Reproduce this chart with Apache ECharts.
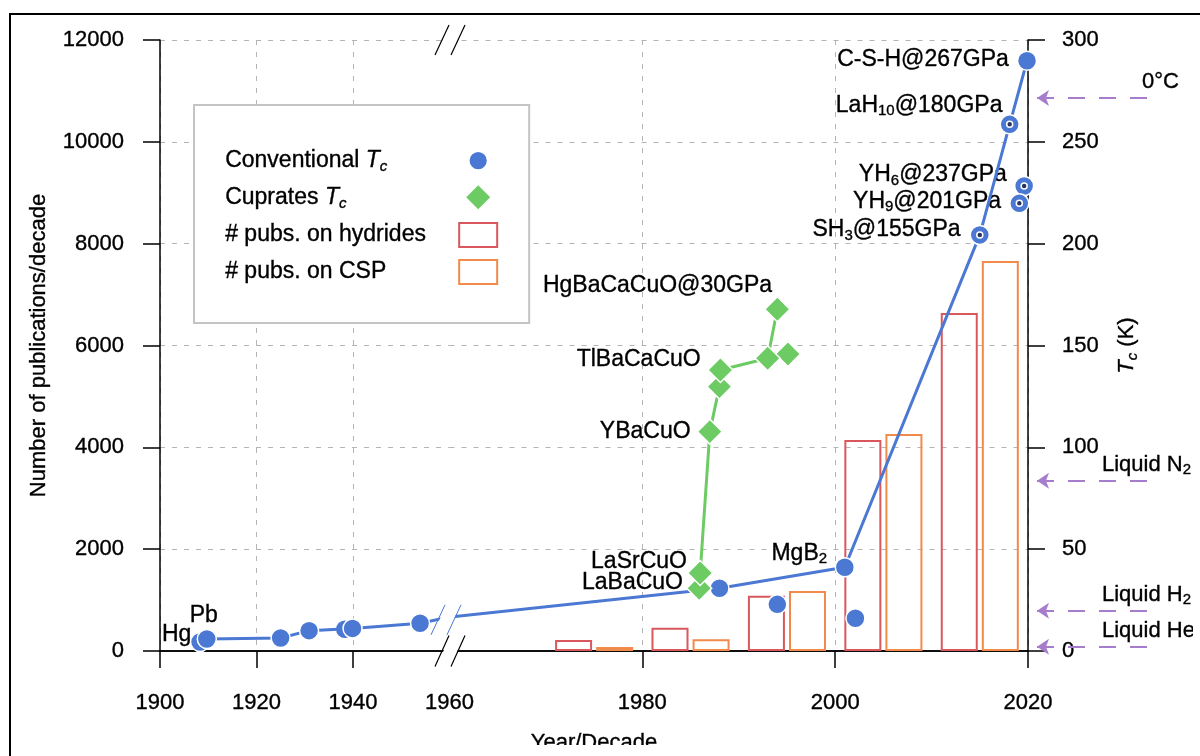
<!DOCTYPE html>
<html>
<head>
<meta charset="utf-8">
<script src="https://cdn.jsdelivr.net/npm/echarts@6/dist/echarts.min.js"></script>
<style>html,body{margin:0;padding:0;background:#fff}#c{width:1200px;height:756px}</style>
</head>
<body>
<div id="c"></div>
<script>
// ================= DATA =================
// x-axis tick labels (left segment 1900-1960, right segment 1960-2020)
const xTicksLeft = [1900, 1920, 1940, 1960];
const xTicksRight = [1980, 2000, 2020];

// Conventional superconductors joined by the trend line (year, Tc in K)
const convNames = ['Pb', '', '', '', '', '', 'MgB_2', 'SH_3@155GPa', 'LaH_10@180GPa', 'C-S-H@267GPa'];
const convYears = [1909.7, 1925.0, 1930.9, 1939.9, 1953.9, 1988.0, 2001.0, 2015.0, 2018.1, 2019.9];
const convTc    = [5.9, 6.4, 10.0, 11.1, 13.6, 30.8, 41.1, 204.3, 258.6, 289.8];

// Conventional superconductors off the trend line
const convOffNames = ['Hg', '', '', '', 'YH_6@237GPa', 'YH_9@201GPa'];
const convOffYears = [1908.3, 1938.3, 1994.0, 2002.1, 2019.6, 2019.1];
const convOffTc    = [4.4, 10.7, 22.9, 16.1, 228.3, 219.8];

// hydrides measured under pressure (drawn with a centre dot)
const highPressure = ['SH_3@155GPa', 'LaH_10@180GPa', 'YH_6@237GPa', 'YH_9@201GPa'];

// Cuprates joined by the line
const cupNames = ['LaBaCuO', 'LaSrCuO', 'YBaCuO', '', 'TlBaCaCuO', '', 'HgBaCaCuO@30GPa'];
const cupYears = [1985.9, 1986.0, 1987.0, 1988.0, 1988.1, 1993.0, 1994.0];
const cupTc    = [30.8, 38.3, 107.7, 129.8, 138.0, 143.7, 167.8];
// Cuprates off the line
const cupOffYears = [1995.1];
const cupOffTc    = [145.8];

// Publications per decade (bars placed at decade mid-year)
const pubDecades   = [1975, 1985, 1995, 2005, 2015];
const pubsHydrides = [216, 458, 1086, 4144, 6638];
const pubsCSP      = [79, 230, 1178, 4262, 7659];

// Reference temperatures (K)
const refNames = ['0°C', 'Liquid N_2', 'Liquid H_2', 'Liquid He'];
const refTemps = [271.5, 83.6, 19.8, 2.1];

// ================= STYLE =================
const F = "'Liberation Sans', Arial, Helvetica, sans-serif";
const BLUE = '#4a78d3', GREEN = '#6ccb63', RED = '#d9585e', ORANGE = '#f08b4c',
      PURPLE = '#a67dcc', GRIDC = '#b4b4b4';
const TB = {textBorderColor: '#000', textBorderWidth: 0.35};
const refLabelX = [1142, 1102, 1102, 1102];

function rich(size) {
  const sub = Math.round(size * 0.66);
  const base = Object.assign({fontFamily: F, color: '#000'}, TB);
  return {
    n:  Object.assign({fontSize: size, lineHeight: size + 4}, base),
    i:  Object.assign({fontSize: size, fontStyle: 'italic', lineHeight: size + 4}, base),
    s:  Object.assign({fontSize: sub, lineHeight: 10, verticalAlign: 'bottom'}, base),
    si: Object.assign({fontSize: sub, fontStyle: 'italic', lineHeight: 10, verticalAlign: 'bottom'}, base)
  };
}
// plain zrender rich styles (for graphic texts)
function zrich(size) {
  const sub = Math.round(size * 0.66);
  const base = {fontFamily: F, fill: '#000', stroke: '#000', lineWidth: 0.35};
  return {
    n: Object.assign({fontSize: size, lineHeight: size + 4}, base),
    s: Object.assign({fontSize: sub, lineHeight: 10, verticalAlign: 'bottom'}, base)
  };
}
function toRich(str) {
  return str.split(/(_\d+)/).filter(Boolean)
    .map(p => p[0] === '_' ? '{s|' + p.slice(1) + '}' : '{n|' + p + '}').join('');
}
const R23 = rich(23), R22 = rich(22);

// label placement per named point: [position, dx, dy]
const labelPlace = {
  'Hg': ['left', 1.5, -7], 'Pb': ['top', -3, 0], 'MgB_2': ['left', -7.5, -14],
  'SH_3@155GPa': ['left', -9, -5], 'LaH_10@180GPa': ['left', 3, -19],
  'C-S-H@267GPa': ['left', -8, -1], 'YH_6@237GPa': ['left', -7, -11],
  'YH_9@201GPa': ['left', -8, -2], 'LaBaCuO': ['left', -3, -6],
  'LaSrCuO': ['left', 0, -11], 'YBaCuO': ['left', -6, 0],
  'TlBaCaCuO': ['left', -6.5, -10], 'HgBaCaCuO@30GPa': ['left', 8, -24]
};

function pts(years, vals, names) {
  return years.map((y, i) => {
    const nm = names ? names[i] : '';
    const item = {name: nm, value: [y, vals[i]]};
    const L = labelPlace[nm];
    if (L) item.label = {position: L[0], offset: [L[1], L[2]], distance: 0};
    return item;
  });
}

const convLine = pts(convYears, convTc, convNames);
const convOff = pts(convOffYears, convOffTc, convOffNames);
const pressurePts = convLine.concat(convOff)
  .filter(d => highPressure.indexOf(d.name) >= 0).map(d => ({value: d.value}));
const cupLine = pts(cupYears, cupTc, cupNames);
const cupOff = pts(cupOffYears, cupOffTc);

const LABEL = {show: true, formatter: p => p.name ? toRich(p.name) : '', rich: R23};
const blueItem = {color: BLUE, borderColor: '#fff', borderWidth: 1.5, opacity: 1};
const greenItem = {color: GREEN, borderColor: '#fff', borderWidth: 1.5, opacity: 1};

const axisLineStyle = {color: '#000', width: 1.5};
const tickStyle = {color: '#000', width: 1.5};
const labelStyle = Object.assign({fontSize: 22, fontFamily: F, color: '#000', formatter: v => String(v)}, TB);
const splitStyle = {show: true, lineStyle: {color: GRIDC, type: [5, 7], width: 1}};

// ---- legend: fixed-width, left-aligned text with the icon on the right ----
const legendParts = {
  'Conventional Tc': [['n', 'Conventional '], ['i', 'T'], ['si', 'c']],
  'Cuprates Tc': [['n', 'Cuprates '], ['i', 'T'], ['si', 'c']],
  '# pubs. on hydrides': [['n', '# pubs. on hydrides']],
  '# pubs. on CSP': [['n', '# pubs. on CSP']]
};
const LEG_W = 229;
const legendRich = Object.assign({}, rich(23));
const legendFmt = {};
const mctx = document.createElement('canvas').getContext('2d');
function measure(text, st) {
  mctx.font = (st.fontStyle || 'normal') + ' normal ' + st.fontSize + 'px ' + F;
  return mctx.measureText(text).width;
}
Object.keys(legendParts).forEach((k, idx) => {
  let w = 0;
  legendParts[k].forEach(p => { w += measure(p[1], legendRich[p[0]]); });
  legendRich['f' + idx] = {width: Math.max(1, LEG_W - w), fontSize: 23, lineHeight: 27, fontFamily: F};
  legendFmt[k] = legendParts[k].map(p => '{' + p[0] + '|' + p[1] + '}').join('') + '{f' + idx + '| }';
});

const option = {
  animation: false,
  backgroundColor: '#fff',
  title: {
    text: 'Year/Decade', left: 594, top: 732, textAlign: 'center', padding: 0,
    textStyle: Object.assign({fontSize: 22, fontWeight: 'normal', fontFamily: F, color: '#000'}, TB)
  },
  legend: {
    orient: 'vertical', left: 194, top: 105, align: 'right',
    padding: [44, 31, 38, 31], itemGap: 11, itemWidth: 38, itemHeight: 24,
    backgroundColor: '#fff', borderColor: '#c4c4c4', borderWidth: 2,
    selectedMode: false,
    textStyle: {rich: legendRich},
    formatter: name => legendFmt[name],
    data: [
      {name: 'Conventional Tc', lineStyle: {width: 0, opacity: 0}},
      {name: 'Cuprates Tc', icon: 'path://M0,-1L1,0L0,1L-1,0Z', itemStyle: {color: GREEN, borderWidth: 0}},
      {name: '# pubs. on hydrides', icon: 'rect', itemStyle: {color: 'rgba(255,255,255,0)', borderColor: RED, borderWidth: 2}},
      {name: '# pubs. on CSP', icon: 'rect', itemStyle: {color: 'rgba(255,255,255,0)', borderColor: ORANGE, borderWidth: 2}}
    ]
  },
  grid: [
    {left: 160, top: 40, width: 289.5, height: 611},
    {left: 449.5, top: 40, width: 578.5, height: 611},
    {left: 1037, top: 40, width: 116, height: 611}
  ],
  xAxis: [
    {gridIndex: 0, type: 'value', min: 1900, max: 1960, interval: 20,
     axisLine: {show: true, lineStyle: axisLineStyle},
     axisTick: {show: true, inside: false, length: 17, lineStyle: tickStyle, customValues: xTicksLeft.slice(0, 3)},
     axisLabel: Object.assign({margin: 41, customValues: xTicksLeft}, labelStyle),
     splitLine: splitStyle},
    {gridIndex: 1, type: 'value', min: 1960, max: 2020, interval: 20,
     axisLine: {show: true, lineStyle: axisLineStyle},
     axisTick: {show: true, inside: false, length: 17, lineStyle: tickStyle, customValues: xTicksRight},
     axisLabel: Object.assign({margin: 41, customValues: xTicksRight}, labelStyle),
     splitLine: splitStyle},
    {gridIndex: 0, type: 'value', position: 'top', min: 1900, max: 1960,
     axisLine: {show: true, lineStyle: axisLineStyle}, axisTick: {show: false},
     axisLabel: {show: false}, splitLine: {show: false}},
    {gridIndex: 1, type: 'value', position: 'top', min: 1960, max: 2020,
     axisLine: {show: true, lineStyle: axisLineStyle}, axisTick: {show: false},
     axisLabel: {show: false}, splitLine: {show: false}},
    {gridIndex: 2, type: 'value', min: 0, max: 1, show: false}
  ],
  yAxis: [
    {gridIndex: 0, type: 'value', position: 'left', min: 0, max: 12000, interval: 2000,
     name: 'Number of publications/decade', nameLocation: 'middle', nameGap: 110, nameRotate: 90,
     nameTextStyle: Object.assign({fontSize: 22, fontFamily: F, color: '#000'}, TB),
     axisLine: {show: true, lineStyle: axisLineStyle},
     axisTick: {show: true, inside: false, length: 17, lineStyle: tickStyle},
     axisLabel: Object.assign({margin: 36}, labelStyle),
     splitLine: splitStyle},
    {gridIndex: 0, type: 'value', min: 0, max: 300, show: false},
    {gridIndex: 1, type: 'value', min: 0, max: 12000, show: false},
    {gridIndex: 1, type: 'value', position: 'right', min: 0, max: 300, interval: 50,
     name: '{i|T}{si|c}{n| (K)}', nameLocation: 'middle', nameGap: 86, nameRotate: 90,
     nameTextStyle: {rich: R22},
     axisLine: {show: true, lineStyle: axisLineStyle},
     axisTick: {show: true, inside: false, length: 17, lineStyle: tickStyle},
     axisLabel: Object.assign({margin: 34}, labelStyle),
     splitLine: splitStyle},
    {gridIndex: 2, type: 'value', min: 0, max: 300, show: false}
  ],
  series: [
    {type: 'line', name: 'Conventional Tc', xAxisIndex: 0, yAxisIndex: 1, data: convLine,
     symbol: 'circle', symbolSize: 19, lineStyle: {color: BLUE, width: 3}, itemStyle: blueItem,
     label: LABEL, z: 3, clip: true},
    {type: 'line', name: 'Conventional Tc', xAxisIndex: 1, yAxisIndex: 3, data: convLine,
     symbol: 'circle', symbolSize: 19, lineStyle: {color: BLUE, width: 3}, itemStyle: blueItem,
     label: LABEL, z: 3, clip: true},
    {type: 'scatter', name: 'Conventional Tc', xAxisIndex: 0, yAxisIndex: 1, data: convOff,
     symbol: 'circle', symbolSize: 19, itemStyle: blueItem, label: LABEL, z: 2, clip: true},
    {type: 'scatter', name: 'Conventional Tc', xAxisIndex: 1, yAxisIndex: 3, data: convOff,
     symbol: 'circle', symbolSize: 19, itemStyle: blueItem, label: LABEL, z: 2, clip: true},
    {type: 'line', name: 'Cuprates Tc', xAxisIndex: 1, yAxisIndex: 3, data: cupLine,
     symbol: 'diamond', symbolSize: 25, lineStyle: {color: GREEN, width: 3}, itemStyle: greenItem,
     label: LABEL, z: 3, clip: true},
    {type: 'scatter', name: 'Cuprates Tc', xAxisIndex: 1, yAxisIndex: 3, data: cupOff,
     symbol: 'diamond', symbolSize: 25, itemStyle: greenItem, z: 2, clip: true},
    {type: 'scatter', name: 'pressure', xAxisIndex: 1, yAxisIndex: 3, data: pressurePts,
     symbol: 'circle', symbolSize: 6, itemStyle: {color: '#26355f', borderColor: '#fff', borderWidth: 1.5, opacity: 1},
     z: 4, silent: true},
    {type: 'bar', name: '# pubs. on hydrides', xAxisIndex: 1, yAxisIndex: 2,
     data: pubDecades.map((d, i) => [d, pubsHydrides[i]]), barWidth: 37, barGap: '11%',
     itemStyle: {color: 'rgba(255,255,255,0)', borderColor: RED, borderWidth: 2}, z: 1},
    {type: 'bar', name: '# pubs. on CSP', xAxisIndex: 1, yAxisIndex: 2,
     data: pubDecades.map((d, i) => [d, pubsCSP[i]]), barWidth: 37, barGap: '11%',
     itemStyle: {color: 'rgba(255,255,255,0)', borderColor: ORANGE, borderWidth: 2}, z: 1},
    {type: 'scatter', name: 'refs', xAxisIndex: 4, yAxisIndex: 4, data: [],
     markLine: {
       silent: true, symbol: ['arrow', 'none'], symbolSize: 12,
       lineStyle: {color: PURPLE, width: 2, type: [17, 14]},
       label: {show: false},
       data: refTemps.map(t => [{coord: [0, t]}, {coord: [1, t]}])
     }}
  ]
};

const chart = echarts.init(document.getElementById('c'), null, {renderer: 'canvas'});
chart.setOption(option);

// ---- decorations: frame, axis-break marks, reference labels ----
const xb = chart.convertToPixel({xAxisIndex: 1}, 1960);
const yb = chart.convertToPixel({yAxisIndex: 2}, 0);
const yt = chart.convertToPixel({yAxisIndex: 2}, 12000);

// y of the trend line where it crosses the break
const iL = convYears.filter(y => y < 1960).length - 1;
const pA = chart.convertToPixel({xAxisIndex: 0, yAxisIndex: 1}, [convYears[iL], convTc[iL]]);
const pB = chart.convertToPixel({xAxisIndex: 1, yAxisIndex: 3}, [convYears[iL + 1], convTc[iL + 1]]);
const yl = pA[1] + (pB[1] - pA[1]) * (xb - pA[0]) / ((xb - pA[0]) + (pB[0] - xb));

function breakMark(x, y, color, lw, h) {
  return [
    {type: 'polygon', shape: {points: [[x - 13, y + h], [x + 1, y + h], [x + 15, y - h], [x + 1, y - h]]},
     style: {fill: '#fff'}, z: 100},
    {type: 'line', shape: {x1: x - 14.5, y1: y + h, x2: x - 0.5, y2: y - h}, style: {stroke: color, lineWidth: lw}, z: 101},
    {type: 'line', shape: {x1: x + 1.5, y1: y + h, x2: x + 15.5, y2: y - h}, style: {stroke: color, lineWidth: lw}, z: 101}
  ];
}

const graphics = [
  {type: 'rect', shape: {x: 1193, y: 16, width: 20, height: 760}, style: {fill: '#fff'}, z: 99},
  {type: 'rect', shape: {x: 12, y: 745, width: 1181, height: 20}, style: {fill: '#fff'}, z: 99},
  {type: 'rect', shape: {x: 10, y: 14, width: 1220, height: 800}, style: {fill: 'none', stroke: '#000', lineWidth: 2}, z: 102}
]
  .concat(breakMark(xb, yb, '#000', 1.2, 15.5))
  .concat(breakMark(xb, yt, '#000', 1.2, 15))
  .concat(breakMark(xb - 4, yl, BLUE, 1, 15));

const ZR22 = zrich(22);
refNames.forEach((nm, i) => {
  const y = chart.convertToPixel({yAxisIndex: 4}, refTemps[i]);
  graphics.push({type: 'text', x: refLabelX[i], y: y - 16, z: 98,
    style: {text: toRich(nm), rich: ZR22, align: 'left', verticalAlign: 'middle'}});
});

chart.setOption({graphic: graphics});
</script>
</body>
</html>
